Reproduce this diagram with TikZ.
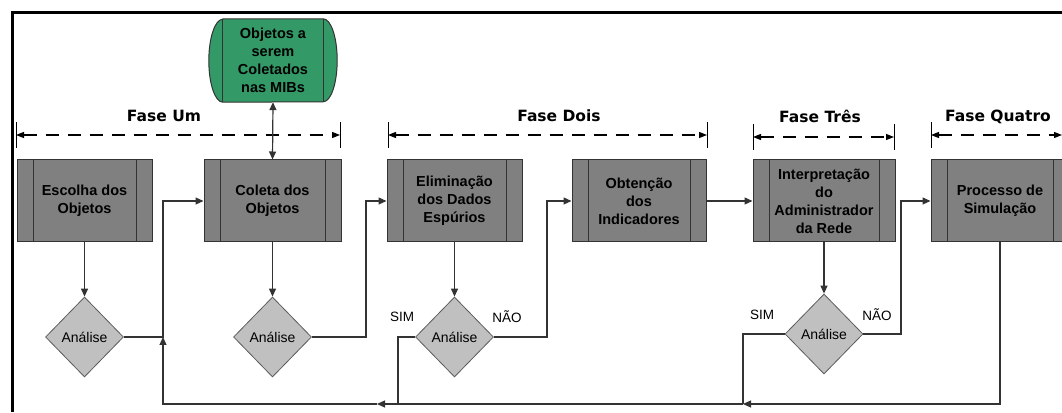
\documentclass[tikz,border=0pt]{standalone}
\usepackage{fontspec}
\setmainfont{Liberation Sans}
\newfontfamily\phasefont{DejaVu Sans}
\usetikzlibrary{arrows.meta, positioning, shapes.geometric, calc}
\definecolor{flgray}{HTML}{808080}
\definecolor{fllight}{HTML}{C0C0C0}
\definecolor{flgreen}{HTML}{339966}
\definecolor{flline}{HTML}{333333}

\begin{document}
\begin{tikzpicture}[x=1pt, y=1pt,
  every node/.style={font=\fontsize{14}{18}\selectfont},
  procbox/.style={rectangle, draw=flline, fill=flgray, line width=1pt, minimum height=82pt, inner sep=0pt, align=center,
    font=\fontsize{14.5}{18}\selectfont\bfseries,
    path picture={\draw[flline, line width=1pt] ([xshift=16pt]path picture bounding box.north west) -- ([xshift=16pt]path picture bounding box.south west);
      \draw[flline, line width=1pt] ([xshift=-16pt]path picture bounding box.north east) -- ([xshift=-16pt]path picture bounding box.south east);}},
  decision/.style={diamond, draw=flline!80, fill=fllight, line width=0.8pt, minimum width=78pt, minimum height=80pt, inner sep=0pt},
  flow/.style={draw=flline, line width=1.2pt, -{Triangle[length=8pt, width=7pt]}},
  dflow/.style={draw=flline, line width=1.2pt, {Triangle[length=8pt, width=7pt]}-{Triangle[length=8pt, width=7pt]}},
  link/.style={draw=flline, line width=1.2pt},
  phase/.style={draw=black, line width=1.3pt, dash pattern=on 13pt off 9pt, {Triangle[length=8pt, width=6pt]}-{Triangle[length=8pt, width=6pt]}},
  tickmark/.style={draw=black, line width=1pt},
  phaselabel/.style={font=\phasefont\fontsize{15.5}{18}\selectfont\bfseries},
  answer/.style={font=\fontsize{13.5}{16}\selectfont},
]
\useasboundingbox (0,0) rectangle (1062,412);
% frame
\draw[line width=3pt] (12,0) -- (12,399) -- (1062,399);

% process boxes
\node[procbox, minimum width=135pt] (esc) at (84.5,211) {Escolha dos\\Objetos};
\node[procbox, minimum width=137pt] (col) at (272.5,211) {Coleta dos\\Objetos};
\node[procbox, minimum width=135pt] (eli) at (454.5,211) {Eliminação\\dos Dados\\Espúrios};
\node[procbox, minimum width=134pt] (obt) at (639,211) {Obtenção\\dos\\Indicadores};
\node[procbox, minimum width=142pt] (int) at (824,211) {Interpretação\\do\\Administrador\\da Rede};
\node[procbox, minimum width=138pt] (sim) at (1000,211) {Processo de\\Simulação};

% data source
\node[minimum width=100pt, minimum height=83pt, inner sep=0pt, align=center, font=\fontsize{14.5}{18}\selectfont\bfseries] (mib) at (273,351.5) {};
\draw[flline, line width=1pt, fill=flgreen] (mib.north west) -- (mib.north east)
  arc[start angle=90, end angle=-90, x radius=14pt, y radius=41.5pt] -- (mib.south west)
  arc[start angle=270, end angle=90, x radius=14pt, y radius=41.5pt] -- cycle;
\draw[flline, line width=1pt] (mib.north west) -- (mib.south west);
\draw[flline, line width=1pt] (mib.north east) -- (mib.south east);
\node[align=center, font=\fontsize{14.5}{18}\selectfont\bfseries] at (mib.center) {Objetos a\\serem\\Coletados\\nas MIBs};

% decisions
\node[decision] (d1) at (84.5,75) {Análise};
\node[decision] (d2) at (272.5,75) {Análise};
\node[decision] (d3) at (454.5,75) {Análise};
\node[decision] (d4) at (824,78) {Análise};

% phases
\coordinate (p1a) at (16,277);  \coordinate (p1b) at (340,277);
\coordinate (p2a) at (388,277); \coordinate (p2b) at (707,277);
\coordinate (p3a) at (753,275); \coordinate (p3b) at (894,275);
\coordinate (p4a) at (931,277); \coordinate (p4b) at (1062,277);
\draw[tickmark] ([yshift=-13pt]p1a) -- ([yshift=13pt]p1a);
\draw[tickmark] ([yshift=-13pt]p1b) -- ([yshift=13pt]p1b);
\draw[tickmark] ([yshift=-13pt]p2a) -- ([yshift=13pt]p2a);
\draw[tickmark] ([yshift=-13pt]p2b) -- ([yshift=13pt]p2b);
\draw[tickmark] ([yshift=-13pt]p3a) -- ([yshift=13pt]p3a);
\draw[tickmark] ([yshift=-13pt]p3b) -- ([yshift=13pt]p3b);
\draw[tickmark] ([yshift=-13pt]p4a) -- ([yshift=13pt]p4a);
\draw[phase] (p1a) -- (p1b);
\draw[phase] (p2a) -- (p2b);
\draw[phase] (p3a) -- (p3b);
\draw[phase] (p4a) -- (p4b);
\node[phaselabel] (f1) at (164,296) {Fase Um};
\node[phaselabel] (f2) at (559,296) {Fase Dois};
\node[phaselabel] (f3) at (820,296) {Fase Três};
\node[phaselabel] (f4) at (998,295) {Fase Quatro};

% flow
\coordinate (j1) at (163,75);
\coordinate (j2) at (366,75);
\coordinate (j3) at (547,75);
\coordinate (j4) at (901,78);
\draw[dflow] (mib.south) -- (col.north);
\draw[flow] (esc.south) -- (d1.north);
\draw[flow] (col.south) -- (d2.north);
\draw[flow] (eli.south) -- (d3.north);
\draw[flow] (int.south) -- (d4.north);
\draw[flow] (d1.east) -- (j1) |- (col.west);
\draw[flow] (d2.east) -- (j2) |- (eli.west);
\draw[flow] (d3.east) -- (j3) |- (obt.west);
\draw[flow] (obt.east) -- (int.west);
\draw[flow] (d4.east) -- (j4) |- (sim.west);

% return path
\coordinate (s4) at (743,8);
\coordinate (s3) at (398,8);
\coordinate (r3) at (377,8);
\draw[flow] (sim.south) |- (s4);
\draw[link] (d4.west) -| (s4);
\draw[flow] (s4) -- (r3);
\draw[link] (d3.west) -| (s3);
\draw[flow] (r3) -| (j1);

\node[answer] (y3) at (402,95) {SIM};
\node[answer] (n3) at (507,95) {NÃO};
\node[answer] (y4) at (762,97) {SIM};
\node[answer] (n4) at (877,97) {NÃO};
\end{tikzpicture}
\end{document}
